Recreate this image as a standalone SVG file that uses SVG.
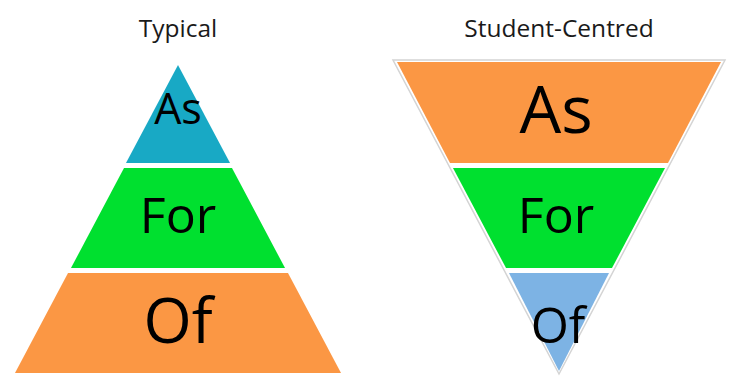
<svg xmlns="http://www.w3.org/2000/svg" width="729" height="377" viewBox="0 0 729 377">
  <style>
    .title { font-family: "Open Sans", "Noto Sans", "DejaVu Sans", sans-serif; font-size: 24.5px; fill: #1a1a1a; text-anchor: middle; }
    .label { font-family: "Open Sans", "Noto Sans", "DejaVu Sans", sans-serif; fill: #000; text-anchor: middle; }
    .as-teal { fill: #18A9C5; }
    .green { fill: #00E02F; }
    .orange { fill: #FB9744; }
    .blue { fill: #7DB3E4; }
  </style>
  <rect width="729" height="377" fill="#fff"/>

  <!-- Typical pyramid: apex at top, widest layer at the bottom -->
  <g id="typical">
    <text class="title" x="178" y="37">Typical</text>
    <g id="typical-as">
      <polygon class="as-teal" points="178,65 230,163 126,163"/>
      <text class="label" x="178" y="124" font-size="43">As</text>
    </g>
    <g id="typical-for">
      <polygon class="green" points="124,168 232,168 285,268 71,268"/>
      <text class="label" x="178" y="233" font-size="50">For</text>
    </g>
    <g id="typical-of">
      <polygon class="orange" points="68,273 288,273 341,373 15,373"/>
      <text class="label" x="178" y="343" font-size="62">Of</text>
    </g>
  </g>

  <!-- Student-centred pyramid: inverted, widest layer on top -->
  <g id="student-centred">
    <text class="title" x="559" y="37">Student-Centred</text>
    <polygon points="393,60 725,60 559,374" fill="#fff" stroke="#d4d4d4" stroke-width="1.5"/>
    <g id="sc-as">
      <polygon class="orange" points="397,62 721,62 668,163 450,163"/>
      <text class="label" x="556" y="133" font-size="66">As</text>
    </g>
    <g id="sc-for">
      <polygon class="green" points="453,168 665,168 612,268 506,268"/>
      <text class="label" x="556" y="233" font-size="50">For</text>
    </g>
    <g id="sc-of">
      <polygon class="blue" points="509,273 609,273 559,371"/>
      <text class="label" x="558" y="343" font-size="49">Of</text>
    </g>
  </g>
</svg>
